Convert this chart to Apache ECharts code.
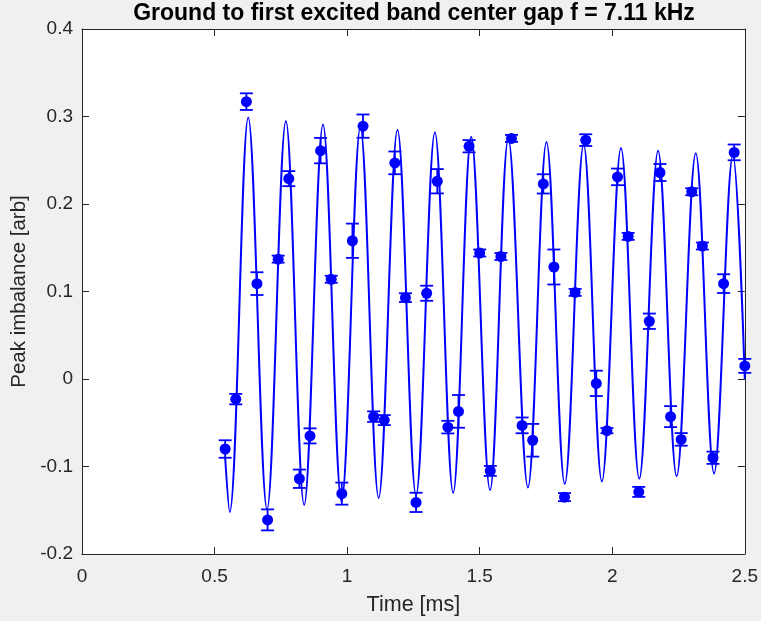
<!DOCTYPE html>
<html>
<head>
<meta charset="utf-8">
<script src="https://cdn.jsdelivr.net/npm/echarts@6/dist/echarts.min.js"></script>
<style>
html, body { margin: 0; padding: 0; background: #f0f0f0; }
#chart { width: 761px; height: 621px; }
</style>
</head>
<body>
<div id="chart"></div>
<script>
// Measured data points (time in ms, imbalance, error half-width)
const times = [0.54, 0.58, 0.62, 0.66, 0.70, 0.74, 0.78, 0.82, 0.86, 0.90,
               0.94, 0.98, 1.02, 1.06, 1.10, 1.14, 1.18, 1.22, 1.26, 1.30,
               1.34, 1.38, 1.42, 1.46, 1.50, 1.54, 1.58, 1.62, 1.66, 1.70,
               1.74, 1.78, 1.82, 1.86, 1.90, 1.94, 1.98, 2.02, 2.06, 2.10,
               2.14, 2.18, 2.22, 2.26, 2.30, 2.34, 2.38, 2.42, 2.46, 2.50];
const values = [-0.080, -0.023, 0.317, 0.109, -0.161, 0.137, 0.229, -0.114, -0.065, 0.261,
                0.114, -0.131, 0.158, 0.289, -0.043, -0.047, 0.247, 0.093, -0.141, 0.098,
                0.226, -0.055, -0.037, 0.266, 0.144, -0.105, 0.140, 0.275, -0.053, -0.070,
                0.223, 0.128, -0.135, 0.099, 0.273, -0.005, -0.059, 0.231, 0.163, -0.129,
                0.066, 0.236, -0.043, -0.069, 0.214, 0.152, -0.090, 0.109, 0.259, 0.015];
const errors = [0.010, 0.006, 0.0095, 0.013, 0.012, 0.004, 0.0086, 0.0105, 0.0086, 0.0145,
                0.004, 0.0126, 0.0196, 0.0133, 0.006, 0.0057, 0.013, 0.005, 0.011, 0.0086,
                0.0139, 0.0072, 0.0187, 0.007, 0.004, 0.0057, 0.004, 0.004, 0.009, 0.0187,
                0.011, 0.020, 0.0046, 0.004, 0.0067, 0.0145, 0.003, 0.0095, 0.004, 0.0057,
                0.0088, 0.0097, 0.012, 0.0072, 0.004, 0.004, 0.007, 0.0107, 0.009, 0.008];

// Fit curve: start, successive troughs/peaks, end
const fitTimes = [0.540, 0.557, 0.627, 0.698, 0.769, 0.838, 0.909, 0.979, 1.050, 1.119,
                  1.190, 1.260, 1.331, 1.400, 1.468, 1.539, 1.608, 1.682, 1.752, 1.821,
                  1.892, 1.961, 2.033, 2.102, 2.173, 2.243, 2.315, 2.384, 2.455, 2.500];
const fitValues = [-0.090, -0.152, 0.299, -0.149, 0.295, -0.144, 0.291, -0.140, 0.288, -0.136,
                   0.285, -0.133, 0.282, -0.130, 0.277, -0.127, 0.275, -0.124, 0.271, -0.120,
                   0.268, -0.117, 0.264, -0.114, 0.261, -0.111, 0.258, -0.108, 0.256, 0.000];

const xMin = 0, xMax = 2.5, xStep = 0.5;
const yMin = -0.2, yMax = 0.4, yStep = 0.1;

const BLUE = '#0000ff';
const AX = '#262626';
const FONT = '"Liberation Sans", Arial, Helvetica, sans-serif';

const pts = times.map((t, i) => [t, values[i], errors[i]]);
const fit = fitTimes.map((t, i) => [t, fitValues[i]]);

const chart = echarts.init(document.getElementById('chart'), null, { renderer: 'canvas' });

function axisBase(label) {
  return {
    axisLine: { show: true, onZero: false, lineStyle: { color: AX, width: 1 } },
    axisTick: { show: true, inside: true, length: 7, lineStyle: { color: AX, width: 1 } },
    splitLine: { show: false },
    axisLabel: label || { show: false }
  };
}

chart.setOption({
  backgroundColor: '#f0f0f0',
  animation: false,
  title: {
    text: 'Ground to first excited band center gap f = 7.11 kHz',
    left: 409, top: -3, textAlign: 'center',
    textStyle: { fontSize: 23, fontWeight: 'bold', color: '#000', fontFamily: FONT }
  },
  grid: {
    left: 82, top: 29, width: 664.5, height: 525.5,
    show: true, backgroundColor: '#ffffff', borderWidth: 0
  },
  xAxis: [
    Object.assign({
      type: 'value', min: xMin, max: xMax, interval: xStep, position: 'bottom',
      name: 'Time [ms]', nameLocation: 'middle', nameGap: 40,
      nameTextStyle: { color: AX, fontSize: 21.5, fontFamily: FONT }
    }, axisBase({ show: true, color: AX, fontSize: 19, fontFamily: FONT, margin: 13 })),
    Object.assign({ type: 'value', min: xMin, max: xMax, interval: xStep, position: 'top' }, axisBase())
  ],
  yAxis: [
    Object.assign({
      type: 'value', min: yMin, max: yMax, interval: yStep, position: 'left',
      name: 'Peak imbalance [arb]', nameLocation: 'middle', nameGap: 51,
      nameTextStyle: { color: AX, fontSize: 20.5, fontFamily: FONT }
    }, axisBase({ show: true, color: AX, fontSize: 19, fontFamily: FONT, margin: 9,
      formatter: v => (Math.round(v * 10) / 10).toString() })),
    Object.assign({ type: 'value', min: yMin, max: yMax, interval: yStep, position: 'right' }, axisBase())
  ],
  series: [
    {
      name: 'fit', type: 'line', data: fit, smooth: 0.36, showSymbol: false, symbol: 'none',
      xAxisIndex: 0, yAxisIndex: 0,
      lineStyle: { color: BLUE, width: 2 }, z: 2, clip: true
    },
    {
      name: 'errorbars', type: 'custom', data: pts, encode: { x: 0, y: 1 }, z: 3,
      xAxisIndex: 0, yAxisIndex: 0,
      renderItem: function (params, api) {
        const x = api.value(0), y = api.value(1), e = api.value(2);
        const top = api.coord([x, y + e]);
        const bot = api.coord([x, y - e]);
        const hw = 6.5;
        const style = { stroke: BLUE, lineWidth: 1.8, fill: null };
        return {
          type: 'group',
          children: [
            { type: 'line', shape: { x1: top[0], y1: top[1], x2: bot[0], y2: bot[1] }, style: style },
            { type: 'line', shape: { x1: top[0] - hw, y1: top[1], x2: top[0] + hw, y2: top[1] }, style: style },
            { type: 'line', shape: { x1: bot[0] - hw, y1: bot[1], x2: bot[0] + hw, y2: bot[1] }, style: style }
          ]
        };
      }
    },
    {
      name: 'data', type: 'scatter', data: pts, symbol: 'circle', symbolSize: 11,
      xAxisIndex: 0, yAxisIndex: 0,
      itemStyle: { color: BLUE, opacity: 1 }, z: 4, clip: false
    }
  ]
});
</script>
</body>
</html>
